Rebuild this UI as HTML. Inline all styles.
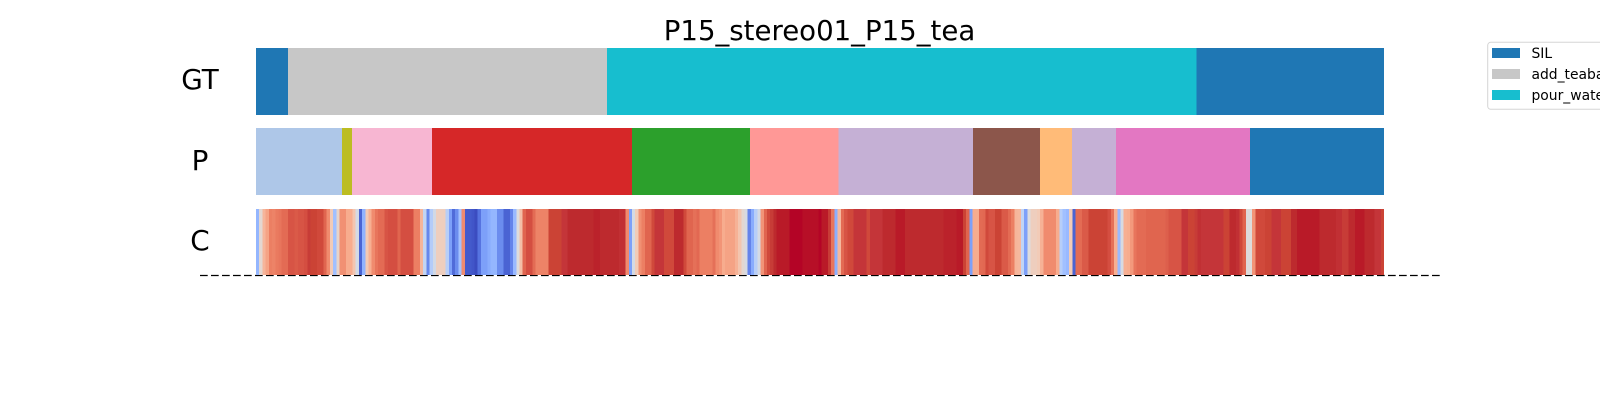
<!DOCTYPE html>
<html>
<head>
<meta charset="utf-8">
<title>P15_stereo01_P15_tea</title>
<style>
html,body{margin:0;padding:0;background:#fff;width:1600px;height:400px;overflow:hidden}
svg{display:block}
text{font-family:"DejaVu Sans","Liberation Sans",sans-serif;fill:#000}
</style>
</head>
<body>
<svg id="chart" xmlns="http://www.w3.org/2000/svg" width="1600" height="400" viewBox="0 0 1600 400">
  <rect x="0" y="0" width="1600" height="400" fill="#ffffff"/>
  <text x="819.5" y="40" font-size="27.6" text-anchor="middle">P15_stereo01_P15_tea</text>
  <text x="200" y="89" font-size="27.78" text-anchor="middle">GT</text>
  <text x="200" y="170" font-size="27.78" text-anchor="middle">P</text>
  <text x="200" y="250" font-size="27.78" text-anchor="middle">C</text>
  <line x1="200" x2="1440" y1="275.5" y2="275.5" stroke="#000" stroke-width="1.2" stroke-dasharray="7.7 3.3"/>
  <g id="gt-row"></g>
  <g id="p-row"></g>
  <g id="c-row"></g>
  <g>
    <rect x="1487.7" y="42.3" width="140" height="67" rx="3" ry="3" fill="#fff" stroke="#d5d5d5" stroke-width="1"/>
    <rect x="1492" y="48" width="28" height="10" fill="#1f77b4"/>
    <text x="1531.5" y="58" font-size="13.89">SIL</text>
    <rect x="1492" y="69" width="28" height="10" fill="#c7c7c7"/>
    <text x="1531.5" y="79" font-size="13.89">add_teabag</text>
    <rect x="1492" y="90" width="28" height="10" fill="#17becf"/>
    <text x="1531.5" y="100" font-size="13.89">pour_water</text>
  </g>
</svg>
<script>
const gtDurations = [10, 99.5, 184, 58.5];
const gtColors = ["#1f77b4", "#c7c7c7", "#17becf", "#1f77b4"];
const predDurations = [26.8, 3.1, 25, 62.4, 36.8, 27.6, 42, 20.9, 10, 13.7, 41.8, 41.8];
const predColors = ["#aec7e8", "#bcbd22", "#f7b6d2", "#d62728", "#2ca02c", "#ff9896", "#c5b0d5", "#8c564b", "#ffbb78", "#c5b0d5", "#e377c2", "#1f77b4"];
const confidence = [
27,53,67,72,80,79,81,82,84,84,89,89,88,89,89,90,93,92,92,91,91,86,77,60,30,55,76,76,70,70,62,47,5,26,61,69,77,82,84,84,89,90,90,90,86,90,90,90,90,80,80,67,41,14,36,46,58,58,58,37,20,7,15,31,77,3,3,2,0,9,20,20,24,27,27,15,15,5,5,13,28,50,64,86,90,90,
84,79,79,79,79,92,92,92,92,94,94,96,96,96,96,96,96,96,96,97,97,96,96,96,96,96,96,95,95,77,20,47,60,76,80,86,86,91,94,94,94,91,91,91,96,96,96,91,86,86,83,85,80,80,80,80,83,77,75,70,72,72,72,68,62,53,48,13,24,37,47,75,86,91,93,96,98,98,98,98,100,100,100,100,99,99,99,99,99,100,98,98,
93,82,25,66,84,89,91,91,94,94,94,94,91,94,94,94,94,96,96,96,96,98,98,98,96,96,96,96,96,96,96,96,96,96,96,96,97,97,97,97,98,98,92,86,20,70,70,84,85,91,89,89,92,92,88,88,84,80,67,66,40,20,50,58,58,60,68,77,77,77,77,70,37,30,28,60,5,84,84,88,88,92,92,92,92,92,92,90,83,69,28,
48,69,70,74,82,84,84,84,86,86,86,86,86,86,87,89,89,89,89,94,94,92,92,93,95,94,94,94,94,94,94,94,92,92,96,96,95,91,86,50,50,75,91,91,91,92,92,94,94,94,92,92,92,96,96,98,98,98,98,98,98,98,96,96,96,96,96,95,95,93,93,96,96,98,98,98,96,96,96,94,94,92
];

const plotLeft = 256;
const plotRight = 1384;
const cmapStops = [[0,59,76,192],[0.05,74,99,211],[0.1,89,119,227],[0.2,125,160,249],[0.25,140,175,254],[0.3,161,192,255],[0.4,192,212,245],[0.5,221,220,220],[0.6,242,203,183],[0.7,247,172,142],[0.77,240,139,110],[0.8,236,127,99],[0.84,227,107,84],[0.86,224,101,79],[0.9,212,78,65],[0.92,203,67,53],[0.94,196,53,57],[0.96,189,42,46],[0.98,185,26,40],[1,180,4,38]];

function sum(a){ return a.reduce(function(s,v){ return s+v; },0); }
function xScale(frame,total){ return plotLeft + frame*(plotRight-plotLeft)/total; }
function colorScale(v){
  var t = Math.max(0,Math.min(1,v/100));
  for (var i=1;i<cmapStops.length;i++){
    var a = cmapStops[i-1], b = cmapStops[i];
    if (t<=b[0]){
      var f = (t-a[0])/(b[0]-a[0]);
      return "rgb("+Math.round(a[1]+(b[1]-a[1])*f)+","+Math.round(a[2]+(b[2]-a[2])*f)+","+Math.round(a[3]+(b[3]-a[3])*f)+")";
    }
  }
  return "rgb(180,4,38)";
}
function drawSegments(groupId,durations,colors,y,h,name){
  var g = document.getElementById(groupId), total = sum(durations), acc = 0;
  durations.forEach(function(d,i){
    var x0 = xScale(acc,total), x1 = xScale(acc+d,total);
    var el = document.createElementNS("http://www.w3.org/2000/svg","rect");
    
    
    el.setAttribute("x",x0);
    el.setAttribute("y",y);
    el.setAttribute("width",x1-x0);
    el.setAttribute("height",h);
    el.setAttribute("fill",colors[i]);
    el.setAttribute("shape-rendering","crispEdges");
    g.appendChild(el);
    acc += d;
  });
}
drawSegments("gt-row",gtDurations,gtColors,48,67,"gt-segment");
drawSegments("p-row",predDurations,predColors,128,67,"prediction-segment");
(function(){
  var g = document.getElementById("c-row"), total = confidence.length;
  confidence.forEach(function(v,i){
    var x0 = xScale(i,total), x1 = xScale(i+1,total);
    var el = document.createElementNS("http://www.w3.org/2000/svg","rect");
    
    
    el.setAttribute("x",x0);
    el.setAttribute("y",209);
    el.setAttribute("width",x1-x0);
    el.setAttribute("height",66);
    el.setAttribute("fill",colorScale(v));
    el.setAttribute("shape-rendering","crispEdges");
    g.appendChild(el);
  });
})();
</script>
</body>
</html>
